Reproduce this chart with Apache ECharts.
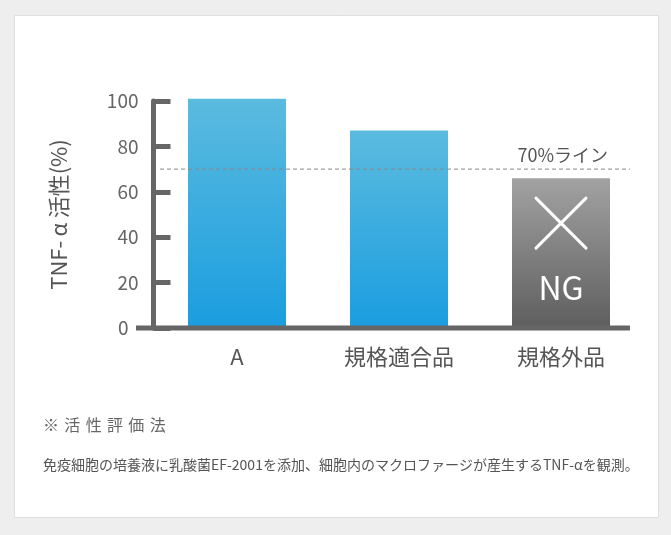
<!DOCTYPE html>
<html><head><meta charset="utf-8">
<script src="https://cdn.jsdelivr.net/npm/echarts@6/dist/echarts.min.js"></script>
<style>html,body{margin:0;padding:0;background:#eeeeee;}#c{width:671px;height:535px;}</style>
</head><body><div id="c"></div>
<script>
const categories = ['A', '規格適合品', '規格外品'];
const values = [101, 87, 66];
const passFlags = [true, true, false];
const yMin = 0, yMax = 100, yStep = 20;
const thresholdValue = 70;
const thresholdLabel = '70%ライン';
const yAxisName = 'TNF-\u2009α\u2009活性(%)';
const noteTitle = '※\u2004活\u2004性\u2004評\u2004価\u2004法';
const noteText = '免疫細胞の培養液に乳酸菌EF-2001を添加、細胞内のマクロファージが産生するTNF-αを観測。';
const ngText = 'NG';

const FONT = '"Noto Sans CJK JP", "Noto Sans", sans-serif';
const blue = new echarts.graphic.LinearGradient(0,0,0,1,[{offset:0,color:'#5bbbdf'},{offset:1,color:'#1a9ddf'}]);
const gray = new echarts.graphic.LinearGradient(0,0,0,1,[{offset:0,color:'#a2a2a2'},{offset:1,color:'#5e5e5e'}]);

const chart = echarts.init(document.getElementById('c'), null, {renderer:'canvas'});
chart.setOption({
  backgroundColor: '#eeeeee',
  animation: false,
  textStyle: {fontFamily: FONT},
  grid: {left: 156, right: 29, top: 101, bottom: 207},
  xAxis: {
    type: 'category', data: categories,
    axisLine: {show: false}, axisTick: {show: false},
    axisLabel: {color: '#555', fontSize: 22, margin: 18, fontFamily: FONT}
  },
  yAxis: {
    type: 'value', min: yMin, max: yMax, interval: yStep, offset: 2.5,
    name: yAxisName, nameLocation: 'middle', nameRotate: 90, nameGap: 84,
    nameTextStyle: {color: '#555', fontSize: 22, fontFamily: FONT},
    axisLine: {show: true, lineStyle: {color: '#666', width: 5}},
    axisTick: {show: true, inside: true, length: 17, lineStyle: {color: '#666', width: 5}},
    splitLine: {show: false},
    axisLabel: {
      color: '#666', fontSize: 19, margin: 15, fontFamily: FONT,
      formatter: v => v === yMin ? '{z|' + v + '}' : String(v),
      rich: {z: {color: '#666', fontSize: 19, fontFamily: FONT, padding: [0, 10, 0, 0]}}
    }
  },
  series: [{
    type: 'bar', barWidth: 98, clip: false,
    data: values.map((v, i) => ({value: v, itemStyle: {color: passFlags[i] ? blue : gray}}))
  }]
});

function drawOverlay() {
  const y0 = chart.convertToPixel({yAxisIndex: 0}, yMin);
  const yT = chart.convertToPixel({yAxisIndex: 0}, thresholdValue);
  const ngIdx = passFlags.indexOf(false);
  const ngX = chart.convertToPixel({xAxisIndex: 0}, categories[ngIdx]);
  const ngTop = chart.convertToPixel({yAxisIndex: 0}, values[ngIdx]);
  const xLeft = chart.convertToPixel({xAxisIndex: 0}, categories[0]);
  const xRight = ngX;
  const el = [
    {type: 'rect', z: -10, shape: {x: 14.5, y: 15.5, width: 644, height: 502},
     style: {fill: '#ffffff', stroke: '#dedede', lineWidth: 1}},
    {type: 'line', z: 100, shape: {x1: xLeft - 101, y1: y0, x2: xRight + 69, y2: y0},
     style: {stroke: '#666', lineWidth: 5}},
    {type: 'line', z: 100, shape: {x1: xLeft - 77, y1: yT, x2: xRight + 69, y2: yT},
     style: {stroke: '#888', lineWidth: 1, lineDash: [4, 3]}},
    {type: 'text', z: 100, x: xRight + 47, y: yT - 14,
     style: {text: thresholdLabel, fill: '#555', font: '18px ' + FONT, align: 'right', verticalAlign: 'middle'}},
    {type: 'line', z: 100, shape: {x1: ngX - 25, y1: ngTop + 20, x2: ngX + 25, y2: ngTop + 70},
     style: {stroke: '#fff', lineWidth: 3, lineCap: 'round'}},
    {type: 'line', z: 100, shape: {x1: ngX + 25, y1: ngTop + 20, x2: ngX - 25, y2: ngTop + 70},
     style: {stroke: '#fff', lineWidth: 3, lineCap: 'round'}},
    {type: 'text', z: 100, x: ngX, y: ngTop + 110,
     style: {text: ngText, fill: '#fff', font: '32px ' + FONT, align: 'center', verticalAlign: 'middle'}},
    {type: 'text', z: 100, x: 43, y: 425,
     style: {text: noteTitle, fill: '#666', font: '16px ' + FONT, align: 'left', verticalAlign: 'middle'}},
    {type: 'text', z: 100, x: 43, y: 465,
     style: {text: noteText, fill: '#555', font: '14px ' + FONT, align: 'left', verticalAlign: 'middle'}}
  ];
  chart.setOption({graphic: {elements: el}});
}
drawOverlay();
</script></body></html>
